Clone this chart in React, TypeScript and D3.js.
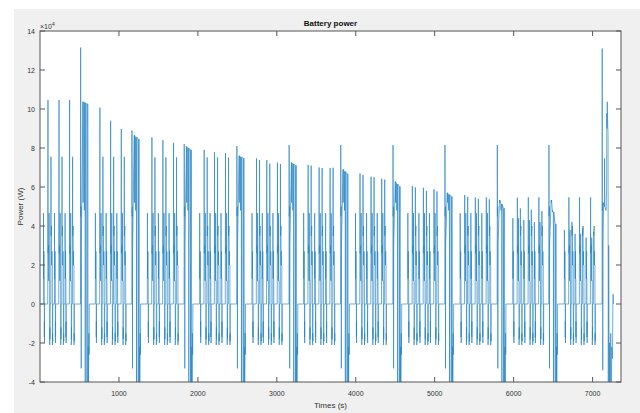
import React from "react";
import * as d3 from "d3";

// Main-spike time (s) of every urban trip, three per cycle
const tripTimes = [
  101, 241, 375, 759, 895, 1030, 1418, 1557, 1692, 2080, 2211, 2350,
  2743, 2873, 3008, 3397, 3536, 3675, 4054, 4194, 4329, 4717, 4857, 4991,
  5380, 5515, 5654, 6047, 6186, 6320, 6700, 6835, 6975,
];
// Peak of the launch spikes of each trip, W
const tripPeakL = [
  46600, 46600, 46600, 46600, 46600, 46600, 46600, 46600, 46600, 46600, 46600, 46600,
  46600, 46600, 46600, 46600, 46600, 46600, 46600, 46600, 46600, 46600, 46600, 46600,
  46600, 46600, 46600, 44000, 43000, 42000, 38000, 36000, 34000,
];
// Peak of the main acceleration spike of each trip, W
const tripPeakA = [
  104600, 104600, 104600, 100700, 94000, 89700, 85500, 84000, 82700, 79000, 77800, 77300,
  74700, 73800, 72500, 71300, 70000, 69700, 67000, 65300, 64300, 60500, 59600, 58800,
  55900, 54700, 54700, 54500, 54700, 54700, 54700, 54700, 54700,
];
// Peak of the second acceleration spike of each trip, W
const tripPeakB = [
  75500, 75500, 75500, 75500, 75500, 75500, 75200, 75200, 75200, 75200, 75200, 75000,
  73800, 72000, 71800, 71000, 69700, 69900, 66200, 65000, 63800, 59800, 58000, 57800,
  55000, 54000, 53700, 49000, 48300, 47600, 42000, 39000, 37000,
];

// Start time (s) of the high-speed section of each cycle
const highwayTimes = [515, 1165, 1827, 2494, 3156, 3810, 4472, 5130, 5793, 6447];
const highwaySpike = [131500, 88900, 82000, 81000, 81500, 81500, 81500, 81500, 81500, 81500];
const highwayPlateauStart = [103700, 86500, 80700, 76000, 72500, 69000, 62700, 57000, 53300, 53300];
const highwayPlateauEnd = [102600, 84500, 79000, 74700, 71000, 66700, 60200, 55000, 49000, 41000];

// Last, unfinished high-speed section
const finalTimes = [7120, 7122, 7124, 7128, 7129, 7131, 7140, 7150, 7152, 7155, 7172, 7178, 7180, 7183, 7186, 7192, 7196, 7199, 7204, 7212, 7216, 7222, 7230, 7236, 7244, 7252, 7257, 7260, 7264];
const finalPower = [0, 131000, 48000, 52000, -34000, 30000, 52000, 50000, 74700, 50000, 48000, 60000, 97800, 90000, 103700, 91000, 88000, -55000, 30000, -55000, -20000, -55000, -15000, -45000, -22000, -28000, 0, 5000, 0];

// Shape of one urban trip relative to its main spike (s, W or peak key)
const URBAN_SHAPE: [number, number | string][] = [
  [-58, 0], [-57, "L"], [-56, 13000], [-52, 13000], [-51, 27000], [-50, 13000], [-47, 13000],
  [-46, -17000], [-45, -9000], [-44, -20000], [-43, 0],
  [-3, 0], [0, "A"], [1, 26000], [8, 30000], [9, 12000], [13, 12000], [14, "L"], [15, 12000],
  [21, 12000], [22, -21000], [24, -12000], [25, -18000], [26, 0],
  [36, 0], [38, "B"], [39, 35000], [45, 40000], [46, 20000], [49, 20000], [50, 27000], [51, 20000],
  [55, 20000], [56, -21000], [58, -15000], [60, -19000], [61, 0],
];

// Shape of a high-speed section relative to its start (s, W or plateau key)
const HIGHWAY_SHAPE: [number, number | string][] = [
  [-2, 0], [0, "H"], [2, 45000], [6, 50000], [7, -33000], [9, 30000], [28, "P0"], [30, "P0"], [31, 52000], [33, "P0"],
  [45, "Pm"], [47, 48000], [49, "Pm"], [56, "Pm"], [58, -55000], [60, 25000], [62, "Pm"],
  [78, "P1"], [80, -55000], [82, 28000], [84, "P1"], [92, "P1"], [93, -55000], [96, -22000],
  [99, -48000], [104, -15000], [107, -26000], [110, 0],
];

function buildSeries(): [number, number][] {
  const pts: [number, number][] = [[0, 0]];
  const addTrip = (i: number) => {
    const keys: Record<string, number> = { L: tripPeakL[i], A: tripPeakA[i], B: tripPeakB[i] };
    URBAN_SHAPE.forEach(([dt, v]) => pts.push([tripTimes[i] + dt, typeof v === "string" ? keys[v] : v]));
  };
  const addHighway = (c: number) => {
    const keys: Record<string, number> = {
      H: highwaySpike[c],
      P0: highwayPlateauStart[c],
      P1: highwayPlateauEnd[c],
      Pm: (highwayPlateauStart[c] + highwayPlateauEnd[c]) / 2,
    };
    HIGHWAY_SHAPE.forEach(([dt, v]) => pts.push([highwayTimes[c] + dt, typeof v === "string" ? keys[v] : v]));
  };
  for (let c = 0; c < 11; c++) {
    for (let k = 0; k < 3; k++) addTrip(c * 3 + k);
    if (c < highwayTimes.length) addHighway(c);
  }
  finalTimes.forEach((t, i) => pts.push([t, finalPower[i]]));
  return pts;
}

const xTicks = [1000, 2000, 3000, 4000, 5000, 6000, 7000];
const yTicks = [-40000, -20000, 0, 20000, 40000, 60000, 80000, 100000, 120000, 140000];

export default function App() {
  const left = 40, right = 621, top = 31, bottom = 382;
  const x = d3.scaleLinear().domain([0, 7360]).range([left, right]);
  const y = d3.scaleLinear().domain([-40000, 140000]).range([bottom, top]);
  const series = buildSeries();
  const path = d3.line<[number, number]>().x((d) => x(d[0])).y((d) => y(d[1]))(series) || "";
  const axisColor = "#555";
  const textColor = "#333";
  const font = "Liberation Sans, Arial, sans-serif";
  const tick = 5;

  return (
    <svg width={640} height={413} style={{ position: "absolute", left: 0, top: 0 }} fontFamily={font}>
      <rect x={0} y={0} width={640} height={413} fill="#ffffff" />
      <rect x={14} y={9} width={626} height={404} fill="#f0f0f0" />
      <rect x={left} y={top} width={right - left} height={bottom - top} fill="#ffffff" />
      <defs>
        <clipPath id="plotArea">
          <rect x={left} y={top} width={right - left} height={bottom - top} />
        </clipPath>
      </defs>
      <path d={path} fill="none" stroke="#2a86c4" strokeWidth={0.75} strokeOpacity={0.9} clipPath="url(#plotArea)" />
      <rect x={left} y={top} width={right - left} height={bottom - top} fill="none" stroke={axisColor} strokeWidth={1} />
      {xTicks.map((t) => (
        <g key={"x" + t}>
          <line x1={x(t)} x2={x(t)} y1={bottom} y2={bottom - tick} stroke={axisColor} />
          <line x1={x(t)} x2={x(t)} y1={top} y2={top + tick} stroke={axisColor} />
          <text x={x(t)} y={395.5} fontSize={7} textAnchor="middle" fill={textColor}>{t}</text>
        </g>
      ))}
      {yTicks.map((t) => (
        <g key={"y" + t}>
          <line x1={left} x2={left + tick} y1={y(t)} y2={y(t)} stroke={axisColor} />
          <line x1={right} x2={right - tick} y1={y(t)} y2={y(t)} stroke={axisColor} />
          <text x={35} y={y(t) + 2.5} fontSize={7} textAnchor="end" fill={textColor}>{t / 10000}</text>
        </g>
      ))}
      <text x={40} y={28.5} fontSize={7} fill={textColor}>
        ×10<tspan dy={-3} fontSize={5}>4</tspan>
      </text>
      <text x={(left + right) / 2} y={25.5} fontSize={8} fontWeight="bold" textAnchor="middle" fill="#111">Battery power</text>
      <text x={(left + right) / 2} y={408} fontSize={8} textAnchor="middle" fill={textColor}>Times (s)</text>
      <text transform={`translate(23,${(top + bottom) / 2}) rotate(-90)`} fontSize={8} textAnchor="middle" fill={textColor}>Power (W)</text>
    </svg>
  );
}
